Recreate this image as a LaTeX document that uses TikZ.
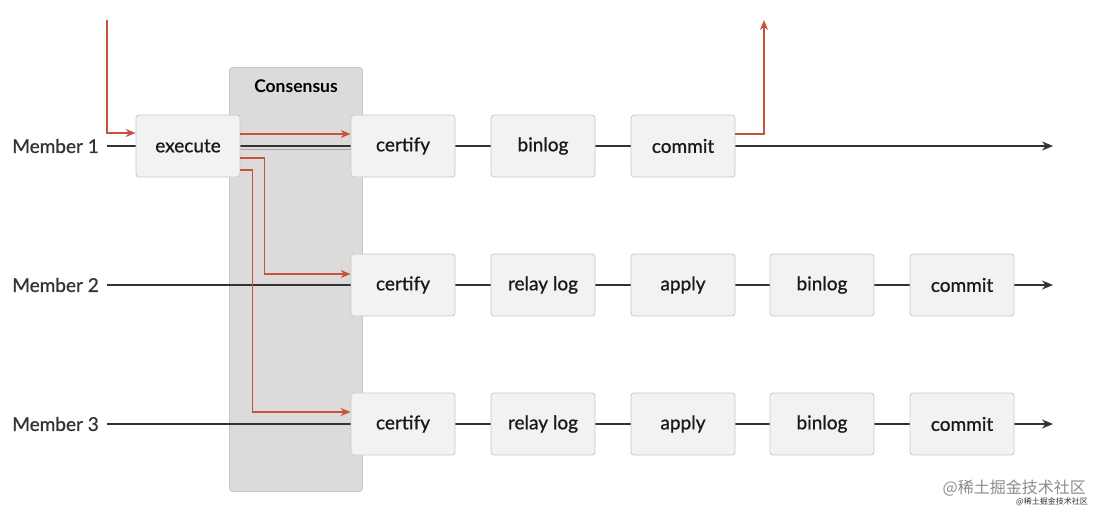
\documentclass[tikz,border=0pt]{standalone}
\usepackage{fontspec}
\setmainfont{Lato}
\newfontfamily\stagefont[FakeBold=0.8]{Lato}
\newfontfamily\cjk{Noto Sans CJK SC}
\usetikzlibrary{arrows.meta}
\definecolor{flowred}{RGB}{196,84,62}
\definecolor{boxfill}{RGB}{242,242,242}
\definecolor{boxline}{RGB}{200,200,200}
\definecolor{consfill}{RGB}{220,219,217}
\definecolor{linecol}{RGB}{50,50,55}
\begin{document}
\begin{tikzpicture}[x=1pt,y=-1pt,
  stagebox/.style={draw=boxline,fill=boxfill,rounded corners=3pt,minimum width=104pt,minimum height=62pt,inner sep=0pt,font=\stagefont\fontsize{19}{21}\selectfont,text=black!90,line width=0.8pt},
  memberlabel/.style={anchor=east,inner sep=0pt,font=\stagefont\fontsize{19}{21}\selectfont,text=black!80},
  timeline/.style={draw=linecol,line width=1.2pt,-{Stealth[length=11pt,width=9pt]}},
  flow/.style={draw=flowred,line width=1.1pt,-{Stealth[length=10pt,width=8pt]}}]
\useasboundingbox (0,0) rectangle (1100,514);
\fill[white] (0,0) rectangle (1100,514);
% consensus region
\node[draw=boxline,fill=consfill,rounded corners=3pt,line width=0.8pt,minimum width=133pt,minimum height=424pt,anchor=north west,inner sep=0pt] (cons) at (229,67) {};
\node[font=\bfseries\fontsize{17.5}{20}\selectfont,anchor=center] (constitle) at (296,86) {Consensus};
% member labels and timeline endpoints
\node[memberlabel] (m1) at (99,146) {Member 1};
\node[memberlabel] (m2) at (99,285) {Member 2};
\node[memberlabel] (m3) at (99,424) {Member 3};
\coordinate (s1) at (107,146); \coordinate (e1) at (1053,146);
\coordinate (s2) at (107,285); \coordinate (e2) at (1053,285);
\coordinate (s3) at (107,424); \coordinate (e3) at (1053,424);
\draw[timeline] (s1) -- (e1);
\draw[timeline] (s2) -- (e2);
\draw[timeline] (s3) -- (e3);
\draw[draw=black!35,line width=0.6pt] (240,149) -- (351,149);
% row 1
\node[stagebox] (execute) at (188,146) {execute};
\node[stagebox] (certify1) at (403,146) {certify};
\node[stagebox] (binlog1) at (543,146) {binlog};
\node[stagebox] (commit1) at (683,146) {commit};
% row 2
\node[stagebox] (certify2) at (403,285) {certify};
\node[stagebox] (relay2) at (543,285) {relay log};
\node[stagebox] (apply2) at (683,285) {apply};
\node[stagebox] (binlog2) at (822,285) {binlog};
\node[stagebox] (commit2) at (962,285) {commit};
% row 3
\node[stagebox] (certify3) at (403,424) {certify};
\node[stagebox] (relay3) at (543,424) {relay log};
\node[stagebox] (apply3) at (683,424) {apply};
\node[stagebox] (binlog3) at (822,424) {binlog};
\node[stagebox] (commit3) at (962,424) {commit};
% red flows
\coordinate (in) at (107,20);
\coordinate (out) at (764,20);
\draw[flow] (in) |- ([yshift=13pt]execute.west);
\draw[flow] ([yshift=12pt]execute.east) -- ([yshift=12pt]certify1.west);
\draw[flow] ([yshift=-12pt]execute.east) -- ++(24,0) |- ([yshift=11pt]certify2.west);
\draw[flow] ([yshift=-24pt]execute.east) -- ++(12,0) |- ([yshift=12pt]certify3.west);
\draw[flow] ([yshift=12pt]commit1.east) -| (out);
% watermark
\node[anchor=east,inner sep=0pt,text=black!45,font=\cjk\fontsize{16}{18}\selectfont] (wm) at (1086,488) {@稀土掘金技术社区};
\node[anchor=east,inner sep=0pt,text=black!80,font=\cjk\fontsize{8}{9}\selectfont] (wm2) at (1088,502) {@稀土掘金技术社区};
\end{tikzpicture}
\end{document}
